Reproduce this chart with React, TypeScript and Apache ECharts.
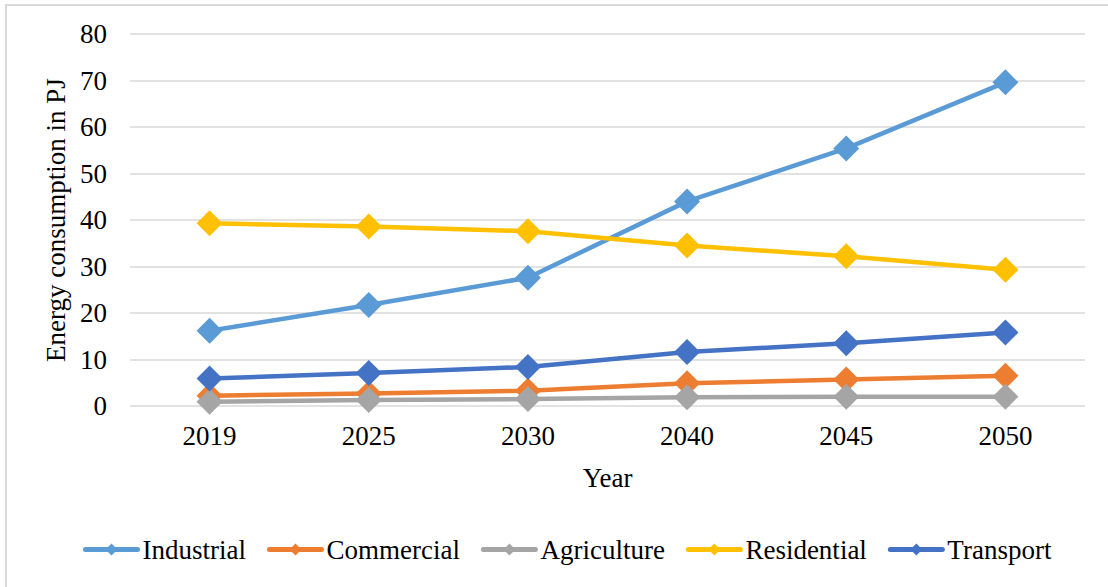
import React, { useEffect, useRef } from "react";
import * as echarts from "echarts";

const years = ["2019", "2025", "2030", "2040", "2045", "2050"];
const industrial = [16.2, 21.7, 27.6, 44.0, 55.4, 69.6];
const commercial = [2.2, 2.7, 3.3, 4.9, 5.7, 6.5];
const agriculture = [0.9, 1.3, 1.5, 1.9, 2.0, 2.0];
const residential = [39.3, 38.6, 37.6, 34.5, 32.2, 29.3];
const transport = [5.9, 7.1, 8.4, 11.6, 13.5, 15.8];

const seriesNames = ["Industrial", "Commercial", "Agriculture", "Residential", "Transport"];
const seriesData = [industrial, commercial, agriculture, residential, transport];
const colors = ["#5B9BD5", "#ED7D31", "#A5A5A5", "#FFC000", "#4472C4"];

const FONT = "Liberation Serif";
const FS = 27;

export default function App() {
  const ref = useRef<HTMLDivElement>(null);
  useEffect(() => {
    if (!ref.current) return;
    const chart = echarts.init(ref.current, undefined, { renderer: "svg" });
    chart.setOption({
      animation: false,
      backgroundColor: "#ffffff",
      textStyle: { fontFamily: FONT, color: "#000" },
      graphic: [
        {
          type: "rect",
          shape: { x: 6, y: 5, width: 1120, height: 600 },
          style: { fill: "none", stroke: "#d9d9d9", lineWidth: 2 },
          silent: true,
        },
      ],
      grid: { left: 130, right: 23, top: 34, bottom: 181 },
      legend: {
        data: seriesNames,
        top: 531,
        left: 78,
        itemWidth: 52,
        itemHeight: 15,
        itemGap: 21,
        lineStyle: { width: 5, cap: "round" },
        textStyle: { fontFamily: FONT, fontSize: FS, color: "#000" },
      },
      xAxis: {
        type: "category",
        data: years,
        boundaryGap: true,
        name: "Year",
        nameLocation: "middle",
        nameGap: 58,
        nameTextStyle: { fontFamily: FONT, fontSize: FS, color: "#000" },
        axisLine: { show: false },
        axisTick: { show: false },
        axisLabel: { fontFamily: FONT, fontSize: FS, color: "#000", margin: 16 },
      },
      yAxis: {
        type: "value",
        min: 0,
        max: 80,
        interval: 10,
        name: "Energy consumption in PJ",
        nameLocation: "middle",
        nameGap: 58,
        nameTextStyle: { fontFamily: FONT, fontSize: FS, color: "#000" },
        axisLine: { show: false },
        axisTick: { show: false },
        axisLabel: { fontFamily: FONT, fontSize: FS, color: "#000", margin: 23 },
        splitLine: { lineStyle: { color: "#d9d9d9", width: 1.5 } },
      },
      series: seriesNames.map((name, i) => ({
        name,
        type: "line",
        data: seriesData[i],
        symbol: "diamond",
        symbolSize: 26,
        color: colors[i],
        lineStyle: { width: 4.5, color: colors[i], join: "round" },
        itemStyle: { color: colors[i] },
      })),
    });
    return () => chart.dispose();
  }, []);
  return (
    <div
      ref={ref}
      style={{ position: "fixed", left: 0, top: 0, width: 1108, height: 587 }}
    />
  );
}
